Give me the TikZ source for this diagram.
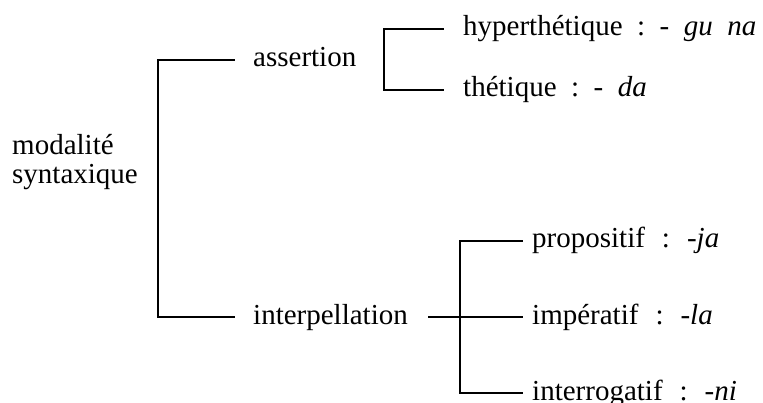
\documentclass[tikz,border=0pt]{standalone}
\usepackage{fontspec}
\setmainfont{Liberation Serif}
\newcommand{\gapsp}{\hspace{17pt}}
\begin{document}
\begin{tikzpicture}[x=1pt,y=-1pt,
  lbl/.style={anchor=base west,inner sep=0pt,font=\fontsize{29}{30}\selectfont},
  link/.style={line width=2pt,line cap=rect}]
\useasboundingbox (0,0) rectangle (763,403);
\node[lbl,align=left] (modalite) at (12,184) {modalité\\[-1pt]syntaxique};
\node[lbl] (assertion) at (253,66.7) {assertion};
\node[lbl] (interpellation) at (253,324) {interpellation};
\node[lbl] (hyper) at (463,36) {hyperthétique~~:~~-~~\textit{gu~~na}};
\node[lbl] (thetique) at (463,97) {thétique~~:~~-~~\textit{da}};
\node[lbl] (propositif) at (532,248) {propositif\gapsp:\gapsp\textit{-ja}};
\node[lbl] (imperatif) at (532,324) {impératif\gapsp:\gapsp\textit{-la}};
\node[lbl] (interrogatif) at (532,400) {interrogatif\gapsp:\gapsp\textit{-ni}};
\draw[link] ([xshift=-19pt,yshift=6.5pt]assertion.base west) -- ++(-76,0)
  |- ([xshift=-19pt,yshift=6.5pt]interpellation.base west);
\draw[link] ([xshift=-20pt,yshift=7pt]hyper.base west) -- ++(-59,0)
  |- ([xshift=-20pt,yshift=7pt]thetique.base west);
\draw[link] ([xshift=-10pt,yshift=6.5pt]propositif.base west) -- ++(-62,0)
  |- ([xshift=-10pt,yshift=7pt]interrogatif.base west);
\draw[link] ([xshift=21pt,yshift=7pt]interpellation.base east)
  -- ([xshift=-10pt,yshift=7pt]imperatif.base west);
\end{tikzpicture}
\end{document}
